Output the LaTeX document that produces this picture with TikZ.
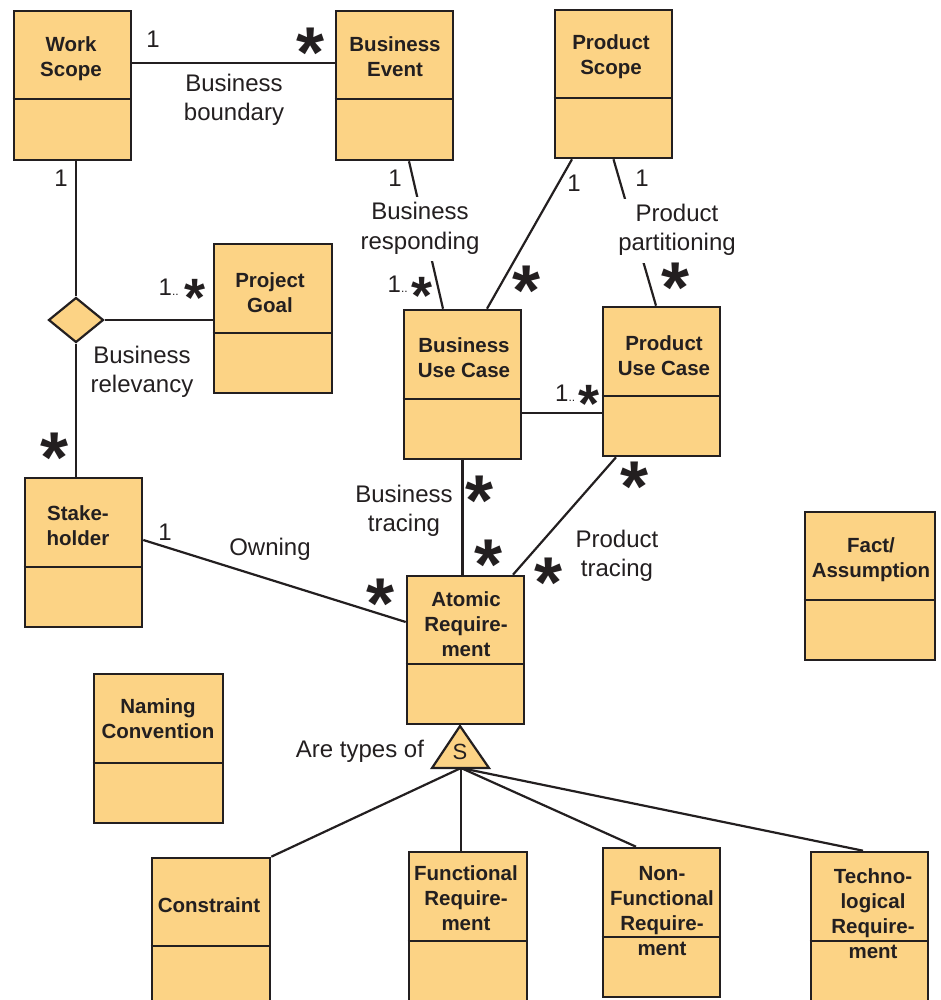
\documentclass[tikz,border=0pt]{standalone}
\usepackage{fontspec}
\setmainfont{Liberation Sans}
\usetikzlibrary{shapes.geometric,calc}
\definecolor{boxfill}{HTML}{FCD385}
\definecolor{ink}{HTML}{231F20}
% multi-line text whose baseline is the first line
\newcommand\mltext[1]{\begin{tabular}[t]{@{}c@{}}#1\end{tabular}}
% multiplicity asterisk, boxed tightly round its glyph
\newcommand\mstar{\raisebox{-0.42em}[0.3em][0pt]{*}}
\tikzset{
  umlbox/.style={draw=ink, fill=boxfill, line width=2.6pt, inner sep=0pt,
    minimum width=117pt, minimum height=149pt},
  divider/.style={draw=ink, line width=2.4pt},
  conn/.style={draw=ink, line width=2.2pt},
  title/.style={text=ink, inner sep=0pt, anchor=base,
    font=\fontsize{20.5}{25}\selectfont\bfseries},
  lab/.style={text=ink, inner sep=0pt, anchor=base,
    font=\fontsize{24}{29}\selectfont},
  cut/.style={fill=white, inner sep=3pt},
  bigstar/.style={text=ink, inner sep=0pt, anchor=north,
    font=\fontsize{72}{72}\selectfont\bfseries},
  smallstar/.style={text=ink, inner sep=0pt, anchor=north,
    font=\fontsize{54}{54}\selectfont\bfseries},
  dots/.style={text=ink, inner sep=0pt, anchor=base west,
    font=\fontsize{24}{29}\selectfont},
}
\begin{document}
\begin{tikzpicture}[x=1pt, y=-1pt]
\useasboundingbox (0,0) rectangle (940,1000);
\clip (0,0) rectangle (940,1000);

% ---------- class boxes ----------
\node[umlbox] (ws)  at (72.5,85.5)  {};
\node[umlbox] (be)  at (394.5,85.5) {};
\node[umlbox, minimum height=148pt] (ps) at (613.5,84) {};
\node[umlbox, minimum width=118pt] (pg) at (273,318.5) {};
\node[umlbox] (buc) at (462.5,384.5) {};
\node[umlbox] (puc) at (661.5,381.5) {};
\node[umlbox] (sh)  at (83.5,552.5) {};
\node[umlbox, minimum height=148pt] (ar) at (465.5,650) {};
\node[umlbox, minimum width=130pt, minimum height=148pt] (fa) at (870,586) {};
\node[umlbox, minimum width=129pt] (nc) at (158.5,748.5) {};
\node[umlbox, minimum width=118pt] (co) at (211,932.5) {};
\node[umlbox, minimum width=118pt] (fr) at (468,926.5) {};
\node[umlbox] (nf)  at (661.5,922.5) {};
\node[umlbox] (tr)  at (869.5,926.5) {};

% compartment dividers
\draw[divider] (ws.west |- 0,99)   -- (ws.east |- 0,99);
\draw[divider] (be.west |- 0,99)   -- (be.east |- 0,99);
\draw[divider] (ps.west |- 0,98)   -- (ps.east |- 0,98);
\draw[divider] (pg.west |- 0,333)  -- (pg.east |- 0,333);
\draw[divider] (buc.west |- 0,399) -- (buc.east |- 0,399);
\draw[divider] (puc.west |- 0,396) -- (puc.east |- 0,396);
\draw[divider] (sh.west |- 0,567)  -- (sh.east |- 0,567);
\draw[divider] (ar.west |- 0,664)  -- (ar.east |- 0,664);
\draw[divider] (fa.west |- 0,600)  -- (fa.east |- 0,600);
\draw[divider] (nc.west |- 0,763)  -- (nc.east |- 0,763);
\draw[divider] (co.west |- 0,946)  -- (co.east |- 0,946);
\draw[divider] (fr.west |- 0,941)  -- (fr.east |- 0,941);
\draw[divider] (nf.west |- 0,937)  -- (nf.east |- 0,937);
\draw[divider] (tr.west |- 0,941)  -- (tr.east |- 0,941);

% box titles
\node[title] (ws-t)  at (71,52)   {\mltext{Work\\Scope}};
\node[title] (be-t)  at (395,52)  {\mltext{Business\\Event}};
\node[title] (ps-t)  at (611,50)  {\mltext{Product\\Scope}};
\node[title] (pg-t)  at (270,287) {\mltext{Project\\Goal}};
\node[title] (buc-t) at (464,352) {\mltext{Business\\Use Case}};
\node[title] (puc-t) at (664,350) {\mltext{Product\\Use Case}};
\node[title] (sh-t)  at (78,520)  {\mltext{Stake-\\holder}};
\node[title] (ar-t)  at (466,606) {\mltext{Atomic\\Require-\\ment}};
\node[title] (fa-t)  at (871,552) {\mltext{Fact/\\Assumption}};
\node[title] (nc-t)  at (158,713) {\mltext{Naming\\Convention}};
\node[title] (co-t)  at (209,912) {Constraint};
\node[title] (fr-t)  at (466,880) {\mltext{Functional\\Require-\\ment}};
\node[title] (nf-t)  at (662,880) {\mltext{Non-\\Functional\\Require-\\ment}};
\node[title] (tr-t)  at (873,883) {\mltext{Techno-\\logical\\Require-\\ment}};

% ---------- association diamond ----------
\node[diamond, draw=ink, fill=boxfill, line width=2.2pt, inner sep=0pt,
      minimum width=55pt, minimum height=45pt] (dia) at (76,320) {};

% ---------- associations ----------
\draw[conn] (ws.east |- 0,63) -- (be.west |- 0,63);
\draw[conn] (dia.north |- ws.south) -- (dia.north);
\draw[conn] (dia.east) -- (pg.west |- dia.east);
\draw[conn] (dia.south) -- (dia.south |- sh.north);
\draw[conn] ([xshift=14.5pt]be.south) -- ([xshift=-19.5pt]buc.north);
\draw[conn] ([xshift=-41.5pt]ps.south) -- ([xshift=24.5pt]buc.north);
\draw[conn] (ps.south) -- ([xshift=-5.5pt]puc.north);
\draw[conn] (buc.east |- 0,413) -- (puc.west |- 0,413);
\draw[conn] (buc.south) -- (buc.south |- ar.north);
\draw[conn] ([xshift=-45.5pt]puc.south) -- ([xshift=47.5pt]ar.north);
\draw[conn] (sh.east |- 0,540) -- (ar.west |- 0,622);

% ---------- specialisation triangle ----------
\coordinate (tip) at (460,726);
\coordinate (bl)  at (432,768);
\coordinate (br)  at (489,768);
\coordinate (gen) at (461,768);
\draw[conn] (gen) -- (co.north east);
\draw[conn] (gen) -- (gen |- fr.north);
\draw[conn] (gen) -- ([xshift=-25.5pt]nf.north);
\draw[conn] (gen) -- ([xshift=-6.5pt]tr.north);
\draw[conn, fill=boxfill, line join=miter] (tip) -- (br) -- (bl) -- cycle;
\node[lab, font=\fontsize{22}{26}\selectfont] (s) at (460,759) {S};

% ---------- association names ----------
\node[lab] (l-bb)  at (234,92)  {\mltext{Business\\boundary}};
\node[lab] (l-br)  at (142,363) {\mltext{Business\\relevancy}};
\node[lab, cut] (l-bresp) at (420,220) {\mltext{Business\\responding}};
\node[lab, cut] (l-pp)    at (677,222) {\mltext{Product\\partitioning}};
\node[lab] (l-bt)  at (404,502) {\mltext{Business\\tracing}};
\node[lab] (l-pt)  at (617,547) {\mltext{Product\\tracing}};
\node[lab] (l-own) at (270,555) {Owning};
\node[lab] (l-typ) at (360,757) {Are types of};

% ---------- multiplicities ----------
\node[lab] (m1) at (153,48)  {1};
\node[lab] (m2) at (61,187)  {1};
\node[lab] (m3) at (395,187) {1};
\node[lab] (m4) at (574,192) {1};
\node[lab] (m5) at (642,187) {1};
\node[lab] (m6) at (165,540) {1};

\node[dots] (d1) at (158.5,295) {1{\fontsize{12}{12}\selectfont..}};
\node[dots] (d2) at (387.5,292) {1{\fontsize{12}{12}\selectfont..}};
\node[dots] (d3) at (555,401)   {1{\fontsize{12}{12}\selectfont..}};
\node[smallstar] (s1) at (195,277) {\mstar};
\node[smallstar] (s2) at (422,275) {\mstar};
\node[smallstar] (s3) at (589,383) {\mstar};

\node[bigstar] (b1) at (311,25)  {\mstar};
\node[bigstar] (b2) at (55,430)  {\mstar};
\node[bigstar] (b3) at (527,263) {\mstar};
\node[bigstar] (b4) at (675,260) {\mstar};
\node[bigstar] (b5) at (480,473) {\mstar};
\node[bigstar] (b6) at (489,537) {\mstar};
\node[bigstar] (b7) at (634,459) {\mstar};
\node[bigstar] (b8) at (549,555) {\mstar};
\node[bigstar] (b9) at (381,576) {\mstar};
\end{tikzpicture}
\end{document}
